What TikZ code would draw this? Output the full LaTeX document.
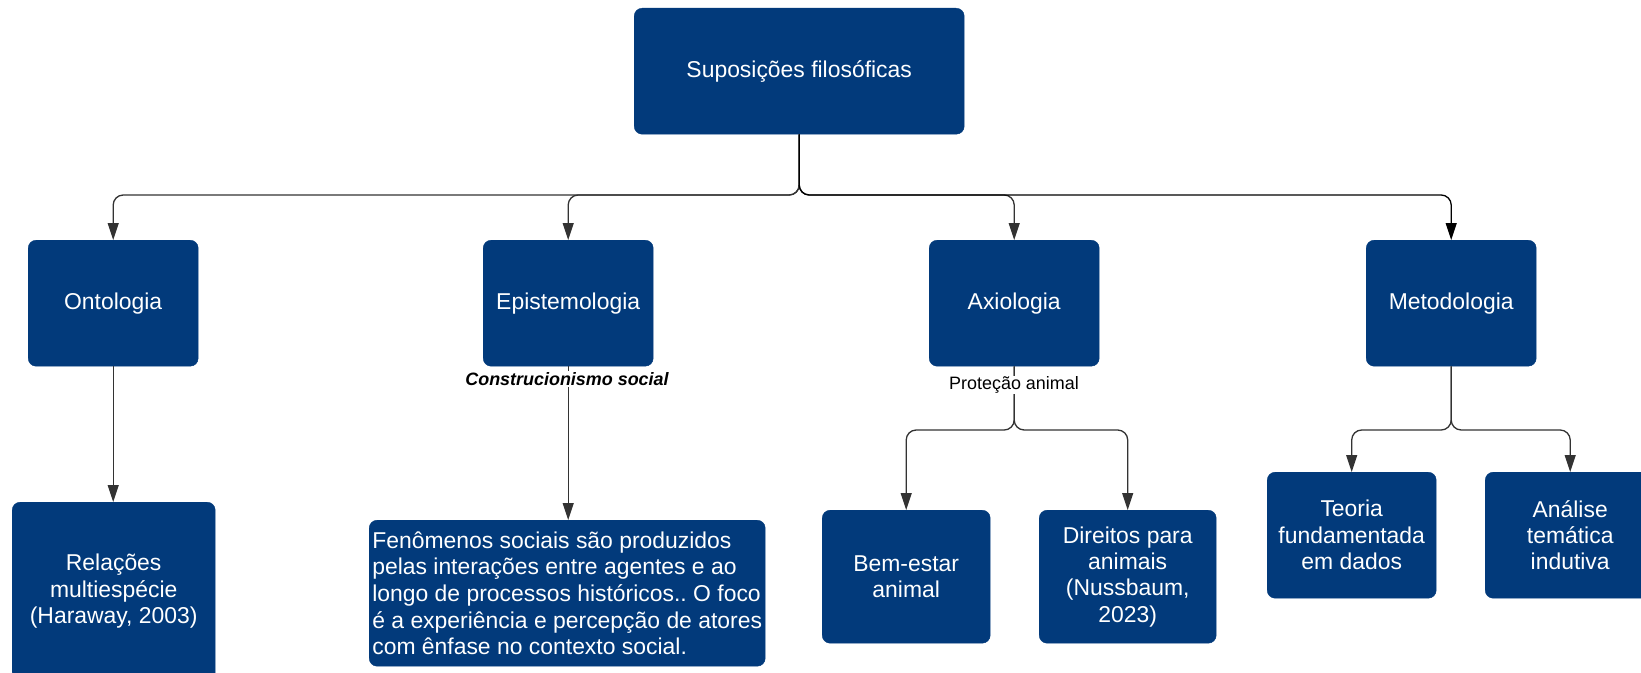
\documentclass[tikz,border=0pt]{standalone}
\usepackage{fontspec}
\setmainfont{Liberation Sans}
\usetikzlibrary{arrows.meta}
\definecolor{boxblue}{RGB}{2,58,123}
\definecolor{linegray}{RGB}{51,51,51}
\tikzset{
  box/.style={draw=boxblue, fill=boxblue, rounded corners=8bp, text=white,
    font=\fontsize{23}{26.5}\selectfont, align=center, inner sep=3bp, anchor=north west},
  conn/.style={draw=linegray, line width=1.3bp, rounded corners=10bp,
    -{Triangle[length=17bp,width=11bp]}},
  blackconn/.style={draw=black, line width=1.3bp, rounded corners=10bp,
    -{Triangle[length=17bp,width=11bp,fill=black]}},
  lbl/.style={fill=white, inner sep=1bp, text=black}
}
\begin{document}
\frenchspacing
\begin{tikzpicture}[x=1bp,y=-1bp]
\useasboundingbox (0,0) rectangle (1641,673);
\clip (0,0) rectangle (1641,673);
% top
\node[box, minimum width=330bp, minimum height=126bp] (top) at (634,8) {Suposições filosóficas};
% level 2
\node[box, minimum width=170bp, minimum height=126bp] (onto) at (28,240) {Ontologia};
\node[box, minimum width=170bp, minimum height=126bp] (epis) at (483,240) {Epistemologia};
\node[box, minimum width=170bp, minimum height=126bp] (axio) at (929,240) {Axiologia};
\node[box, minimum width=170bp, minimum height=126bp] (meto) at (1366,240) {Metodologia};
% level 3
\node[box, minimum width=203bp, minimum height=178bp] (rel) at (12,502) {Relações\\multiespécie\\(Haraway, 2003)};
\node[box, minimum width=396bp, minimum height=146bp, align=left, inner xsep=2bp,
  font=\fontsize{23}{26.8}\selectfont] (fen) at (369,520)
  {Fenômenos sociais são produzidos\\pelas interações entre agentes e ao\\longo de processos históricos.. O foco\\é a experiência e percepção de atores\\com ênfase no contexto social.};
\node[box, minimum width=168bp, minimum height=133bp] (bem) at (822,510) {Bem-estar\\animal};
\node[box, minimum width=177bp, minimum height=133bp] (dir) at (1039,510) {Direitos para\\animais\\(Nussbaum,\\2023)};
\node[box, minimum width=169bp, minimum height=126bp] (teo) at (1267,472) {Teoria\\fundamentada\\em dados};
\node[box, minimum width=170bp, minimum height=126bp] (ana) at (1485,472) {Análise\\temática\\indutiva};
% bus coordinates
\coordinate (bus) at (top.south |- 0,195);
\coordinate (axsplit) at (axio.south |- 0,430);
\coordinate (mesplit) at (meto.south |- 0,430);
% top connectors
\draw[conn] (top.south) -- (bus) -| (onto.north);
\draw[conn] (top.south) -- (bus) -| (epis.north);
\draw[conn] (top.south) -- (bus) -| (axio.north);
\draw[blackconn] (top.south) -- (bus) -| (meto.north);
% ontology
\draw[conn] (onto.south) -- (rel.north -| onto.south);
% epistemology
\draw[conn] (epis.south) -- (epis.south |- fen.north);
\node[lbl, font=\fontsize{18}{20}\selectfont\bfseries\itshape] (cs) at (567,379) {Construcionismo social};
% axiology
\draw[conn] (axio.south) -- (axsplit) -| (bem.north);
\draw[conn] (axio.south) -- (axsplit) -| (dir.north);
\node[lbl, font=\fontsize{18}{20}\selectfont] (pa) at (1014,385) {Proteção animal};
% methodology
\draw[conn] (meto.south) -- (mesplit) -| (teo.north);
\draw[conn] (meto.south) -- (mesplit) -| (ana.north);
\end{tikzpicture}
\end{document}
